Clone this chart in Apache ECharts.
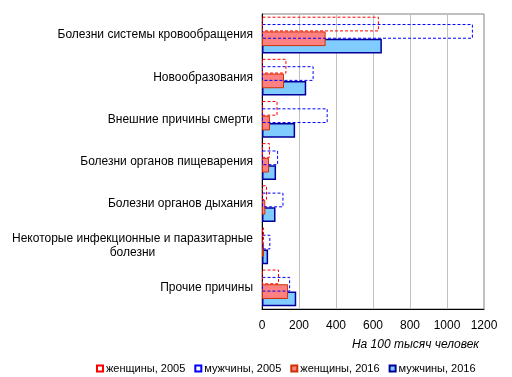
<!DOCTYPE html>
<html>
<head>
<meta charset="utf-8">
<script src="https://cdn.jsdelivr.net/npm/echarts@6/dist/echarts.min.js"></script>
<style>
    html, body { margin: 0; padding: 0; background: #fff; }
    #chart { width: 512px; height: 377px; }
</style>
</head>
<body>
<div id="chart"></div>
<script>
const causes = [
    "Болезни системы кровообращения",
    "Новообразования",
    "Внешние причины смерти",
    "Болезни органов пищеварения",
    "Болезни органов дыхания",
    "Некоторые инфекционные и паразитарные болезни",
    "Прочие причины",
];
const women2005 = [632, 132, 84, 43, 27, 11, 92];
const men2005 = [1140, 279, 355, 87, 116, 45, 152];
const women2016 = [344, 119, 43, 38, 18, 11, 141];
const men2016 = [648, 239, 179, 76, 73, 33, 185];
const xTicks = [0, 200, 400, 600, 800, 1000, 1200];

/* one bar series, dashed outline for 2005, filled for 2016 */
function makeSeries(name, data, style, z) {
    return {
        name: name,
        type: "bar",
        data: data,
        barWidth: 14.7,
        barGap: "-50%",
        z: z,
        itemStyle: style,
        emphasis: { disabled: true },
    };
}

function drawChart() {
    let myChart = echarts.init(document.querySelector("#chart"));
    const option = {
        animation: false,
        textStyle: { fontFamily: "Liberation Sans, Arial, sans-serif" },
        title: {
            text: "На 100 тысяч человек",
            right: 28,
            top: 334,
            textStyle: {
                fontSize: 12,
                fontStyle: "italic",
                fontWeight: "normal",
                color: "#000",
            },
        },
        legend: {
            left: 91,
            top: 358,
            itemWidth: 6,
            itemHeight: 6,
            itemGap: 9,
            icon: "rect",
            textStyle: { fontSize: 11, color: "#000", padding: [0, 0, 0, -2] },
            data: ["женщины, 2005", "мужчины, 2005", "женщины, 2016", "мужчины, 2016"],
        },
        grid: {
            left: 262,
            right: 28,
            top: 14,
            bottom: 68,
            show: true,
            borderColor: "#808080",
            borderWidth: 1,
        },
        xAxis: {
            type: "value",
            min: xTicks[0],
            max: xTicks[xTicks.length - 1],
            interval: 200,
            axisLine: { show: true, lineStyle: { color: "#000" } },
            axisTick: { show: false },
            axisLabel: {
                fontSize: 12,
                color: "#000",
                margin: 11,
                formatter: function (v) {
                    return String(v);
                },
            },
            splitLine: { lineStyle: { color: "#c0c0c0" } },
        },
        yAxis: {
            type: "category",
            data: causes,
            inverse: true,
            axisLine: { show: true, lineStyle: { color: "#000" } },
            axisTick: { show: false },
            axisLabel: {
                fontSize: 12,
                color: "#000",
                margin: 9,
                formatter: function (v) {
                    // the long label wraps, second line centred
                    if (v.indexOf("паразитарные") > -1) {
                        return "{a|Некоторые инфекционные и паразитарные}\n{b|болезни}";
                    }
                    return v;
                },
                rich: {
                    a: { fontSize: 12, color: "#000", lineHeight: 14 },
                    b: { fontSize: 12, color: "#000", lineHeight: 14, align: "center" },
                },
            },
        },
        series: [
            makeSeries("женщины, 2005", women2005, {
                color: "rgba(255,255,255,0)",
                borderColor: "#ff0000",
                borderWidth: 1,
                borderType: [3, 2],
            }, 5),
            makeSeries("мужчины, 2005", men2005, {
                color: "rgba(255,255,255,0)",
                borderColor: "#0000ff",
                borderWidth: 1,
                borderType: [3, 2],
            }, 4),
            makeSeries("женщины, 2016", women2016, {
                color: "#ff8080",
                borderColor: "#cc3300",
                borderWidth: 1,
            }, 3),
            makeSeries("мужчины, 2016", men2016, {
                color: "#80ccff",
                borderColor: "#000099",
                borderWidth: 1.5,
            }, 2),
        ],
    };
    myChart.setOption(option);
}

drawChart();
</script>
</body>
</html>
